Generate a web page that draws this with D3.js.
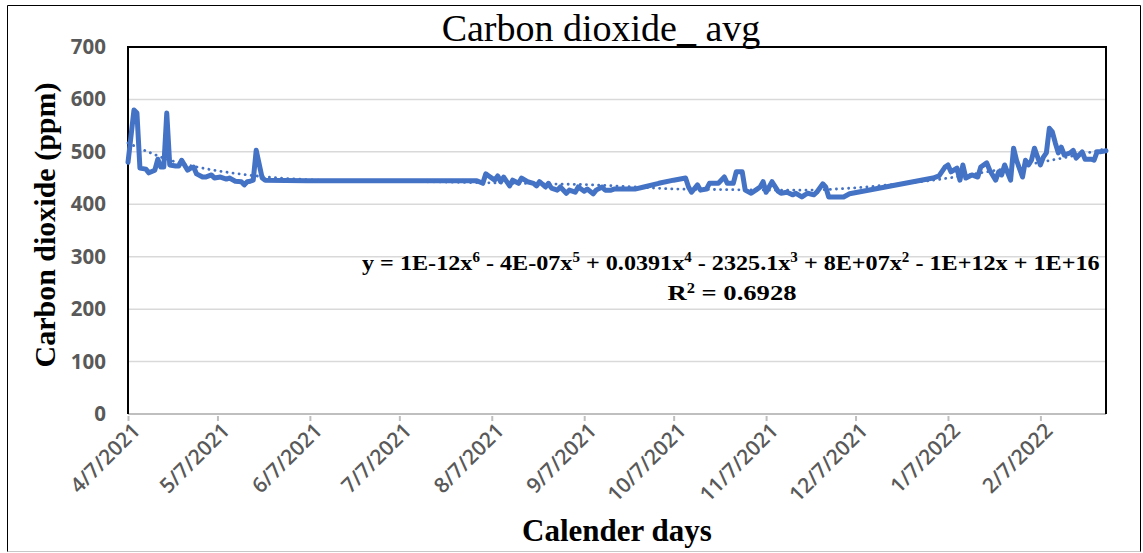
<!DOCTYPE html>
<html><head><meta charset="utf-8">
<script src="https://cdn.jsdelivr.net/npm/d3@7"></script>
<style>body{margin:0;background:#fff;overflow:hidden}</style>
</head><body><svg id="c" width="1143" height="553"></svg>
<script>
// ---- data ----
const startDate = "4/7/2021";
const endDate = "3/1/2022";
const xTickLabels = ["4/7/2021","5/7/2021","6/7/2021","7/7/2021","8/7/2021","9/7/2021","10/7/2021","11/7/2021","12/7/2021","1/7/2022","2/7/2022"];
const yTicks = [0,100,200,300,400,500,600,700];
// days after 4/7/2021
const dayOffsets = [0,2,3,4,6,7,9,10,11,12,13,14,16,17,18,20,21,22,23,25,26,28,29,31,33,34,36,38,39,40,41,42,43,45,46,60,80,100,117,
 119,120,121,123,124,125,126,128,129,131,132,134,136,137,138,140,141,142,144,145,147,148,150,151,153,154,156,157,159,160,162,163,165,167,170,173,178,183,187,188,189,191,192,194,195,198,200,201,203,204,206,207,209,211,212,213,214,216,218,219,221,223,224,226,227,228,230,231,233,234,235,240,242,
 270,272,274,275,276,278,279,280,281,283,285,286,288,289,291,292,293,294,296,297,298,300,301,302,303,304,306,307,308,309,310,311,312,313,314,316,317,318,320,321,323,324,325,326,328];
const co2Values = [480,580,574,469,467,460,465,486,471,471,574,475,473,473,484,465,469,471,458,452,452,456,450,452,448,450,444,443,437,443,444,446,503,450,446,445,445,445,445,
 440,458,454,446,454,443,452,435,446,440,450,443,440,435,443,433,440,431,427,433,421,427,423,433,425,429,420,427,433,427,427,429,429,429,429,433,440,446,450,433,423,437,427,429,440,440,452,440,440,462,462,427,421,429,433,443,423,443,425,421,423,418,421,414,418,421,418,423,439,433,414,414,420,
 450,454,471,475,462,469,446,475,450,456,452,471,479,465,446,462,456,475,446,507,484,452,484,475,484,507,475,490,498,545,538,517,498,509,494,498,503,488,500,486,486,484,500,500,502];
// polynomial trendline (6th order)
const trendDays = [0,3,8,12,20,30,45,60,80,100,120,140,156,170,185,200,215,228,240,255,270,285,300,315,328];
const trendValues = [517,509,497,488,475,464,453,447,444,443,441,439,437,433,429,428,427,427,430,437,446,459,474,490,506];
const titleText = "Carbon dioxide_ avg";
const yLabel = "Carbon dioxide (ppm)";
const xLabel = "Calender days";
const eqParts = [["y = 1E-12x",""],["6",1],[" - 4E-07x",""],["5",1],[" + 0.0391x",""],["4",1],[" - 2325.1x",""],["3",1],[" + 8E+07x",""],["2",1],[" - 1E+12x + 1E+16",""]];
const r2Parts = [["R",""],["2",1],[" = 0.6928",""]];

// ---- layout ----
const svg = d3.select("#c");
const L = 128, R = 1106, T = 47, B = 414;
const parse = d3.timeParse("%m/%d/%Y");
const t0 = parse(startDate);
const x = d3.scaleTime().domain([t0, parse(endDate)]).range([L, R]);
const y = d3.scaleLinear().domain([0, 700]).range([B, T]);

// outer frame
svg.append("line").attr("x1",7.5).attr("x2",1140.5).attr("y1",5.5).attr("y2",5.5).attr("stroke","#000");
svg.append("line").attr("x1",7.5).attr("x2",7.5).attr("y1",5.5).attr("y2",552).attr("stroke","#000");
svg.append("line").attr("x1",1140.5).attr("x2",1140.5).attr("y1",5.5).attr("y2",552).attr("stroke","#000");
svg.append("line").attr("x1",7.5).attr("x2",1140.5).attr("y1",551.5).attr("y2",551.5).attr("stroke","#c8c8c8");

// gridlines
svg.append("g").selectAll("line").data(yTicks.filter(d=>d>0 && d<700)).join("line")
  .attr("x1",L).attr("x2",R).attr("y1",d=>y(d)).attr("y2",d=>y(d))
  .attr("stroke","#d9d9d9").attr("stroke-width",1.5);

// y axis labels
const yAxis = d3.axisLeft(y).tickValues(yTicks).tickSize(0).tickPadding(0);
const gy = svg.append("g").attr("transform",`translate(${L-22},0)`).call(yAxis);
gy.select(".domain").remove();
gy.selectAll("text").attr("font-family","'Open Sans', sans-serif").attr("font-weight",700)
  .attr("font-size",20.5).attr("fill","#595959");

// x axis
const xDates = xTickLabels.map(parse);
const xAxis = d3.axisBottom(x).tickValues(xDates).tickSize(7).tickFormat((d,i)=>xTickLabels[i]);
const gx = svg.append("g").attr("transform",`translate(0,${B})`).call(xAxis);
gx.select(".domain").attr("stroke","#bfbfbf").attr("stroke-width",2).attr("d",`M${L},0H${R}`);
gx.selectAll(".tick line").attr("stroke","#bfbfbf").attr("stroke-width",2).attr("y1",2);
gx.selectAll(".tick text").attr("font-family","'Open Sans', sans-serif").attr("font-weight",600)
  .attr("font-size",21).attr("fill","#595959")
  .attr("text-anchor","end").attr("dy",null).attr("y",null)
  .attr("transform","translate(13,18) rotate(-45)");

// plot border (left, top, right)
svg.append("path").attr("d",`M${L},${B}V${T}H${R}V${B}`).attr("fill","none").attr("stroke","#000").attr("stroke-width",2);

// trendline
const trend = trendDays.map((d,i)=>({date:d3.timeDay.offset(t0,d), v:trendValues[i]}));
svg.append("path").datum(trend)
  .attr("d", d3.line().x(d=>x(d.date)).y(d=>y(d.v)).curve(d3.curveMonotoneX))
  .attr("fill","none").attr("stroke","#4472C4").attr("stroke-width",2.8)
  .attr("stroke-linecap","round").attr("stroke-dasharray","0.1 6");

// data line
const data = dayOffsets.map((d,i)=>({date:d3.timeDay.offset(t0,d), v:co2Values[i]}));
svg.append("path").datum(data)
  .attr("d", d3.line().x(d=>x(d.date)).y(d=>y(d.v)))
  .attr("fill","none").attr("stroke","#4472C4").attr("stroke-width",5)
  .attr("stroke-linejoin","round").attr("stroke-linecap","round");

// title
svg.append("text").attr("x",601).attr("y",41).attr("text-anchor","middle")
  .attr("font-family","'Liberation Serif', 'Times New Roman', serif").attr("font-size",38)
  .attr("fill","#000").text(titleText);

// axis titles
svg.append("text").attr("transform","translate(55,225) rotate(-90)").attr("text-anchor","middle")
  .attr("font-family","'Liberation Serif', serif").attr("font-weight",700).attr("font-size",30)
  .text(yLabel);
svg.append("text").attr("x",617).attr("y",541).attr("text-anchor","middle")
  .attr("font-family","'Liberation Serif', serif").attr("font-weight",700).attr("font-size",31)
  .text(xLabel);

// equation
function richText(parts, cx, by, targetW, fs){
  const t = svg.append("text").attr("font-family","'Liberation Serif', serif").attr("font-weight",700)
    .attr("font-size",fs).attr("x",0).attr("y",0);
  parts.forEach(p=>{
    const s = t.append("tspan").text(p[0]);
    if(p[1]) s.attr("font-size",fs*0.62).attr("baseline-shift","super");
  });
  const w = t.node().getComputedTextLength();
  const k = targetW / w;
  t.attr("transform",`translate(${cx - w*k/2},${by}) scale(${k},1)`);
}
richText(eqParts, 731, 270, 738, 22);
richText(r2Parts, 732, 300, 129, 22);
</script></body></html>
